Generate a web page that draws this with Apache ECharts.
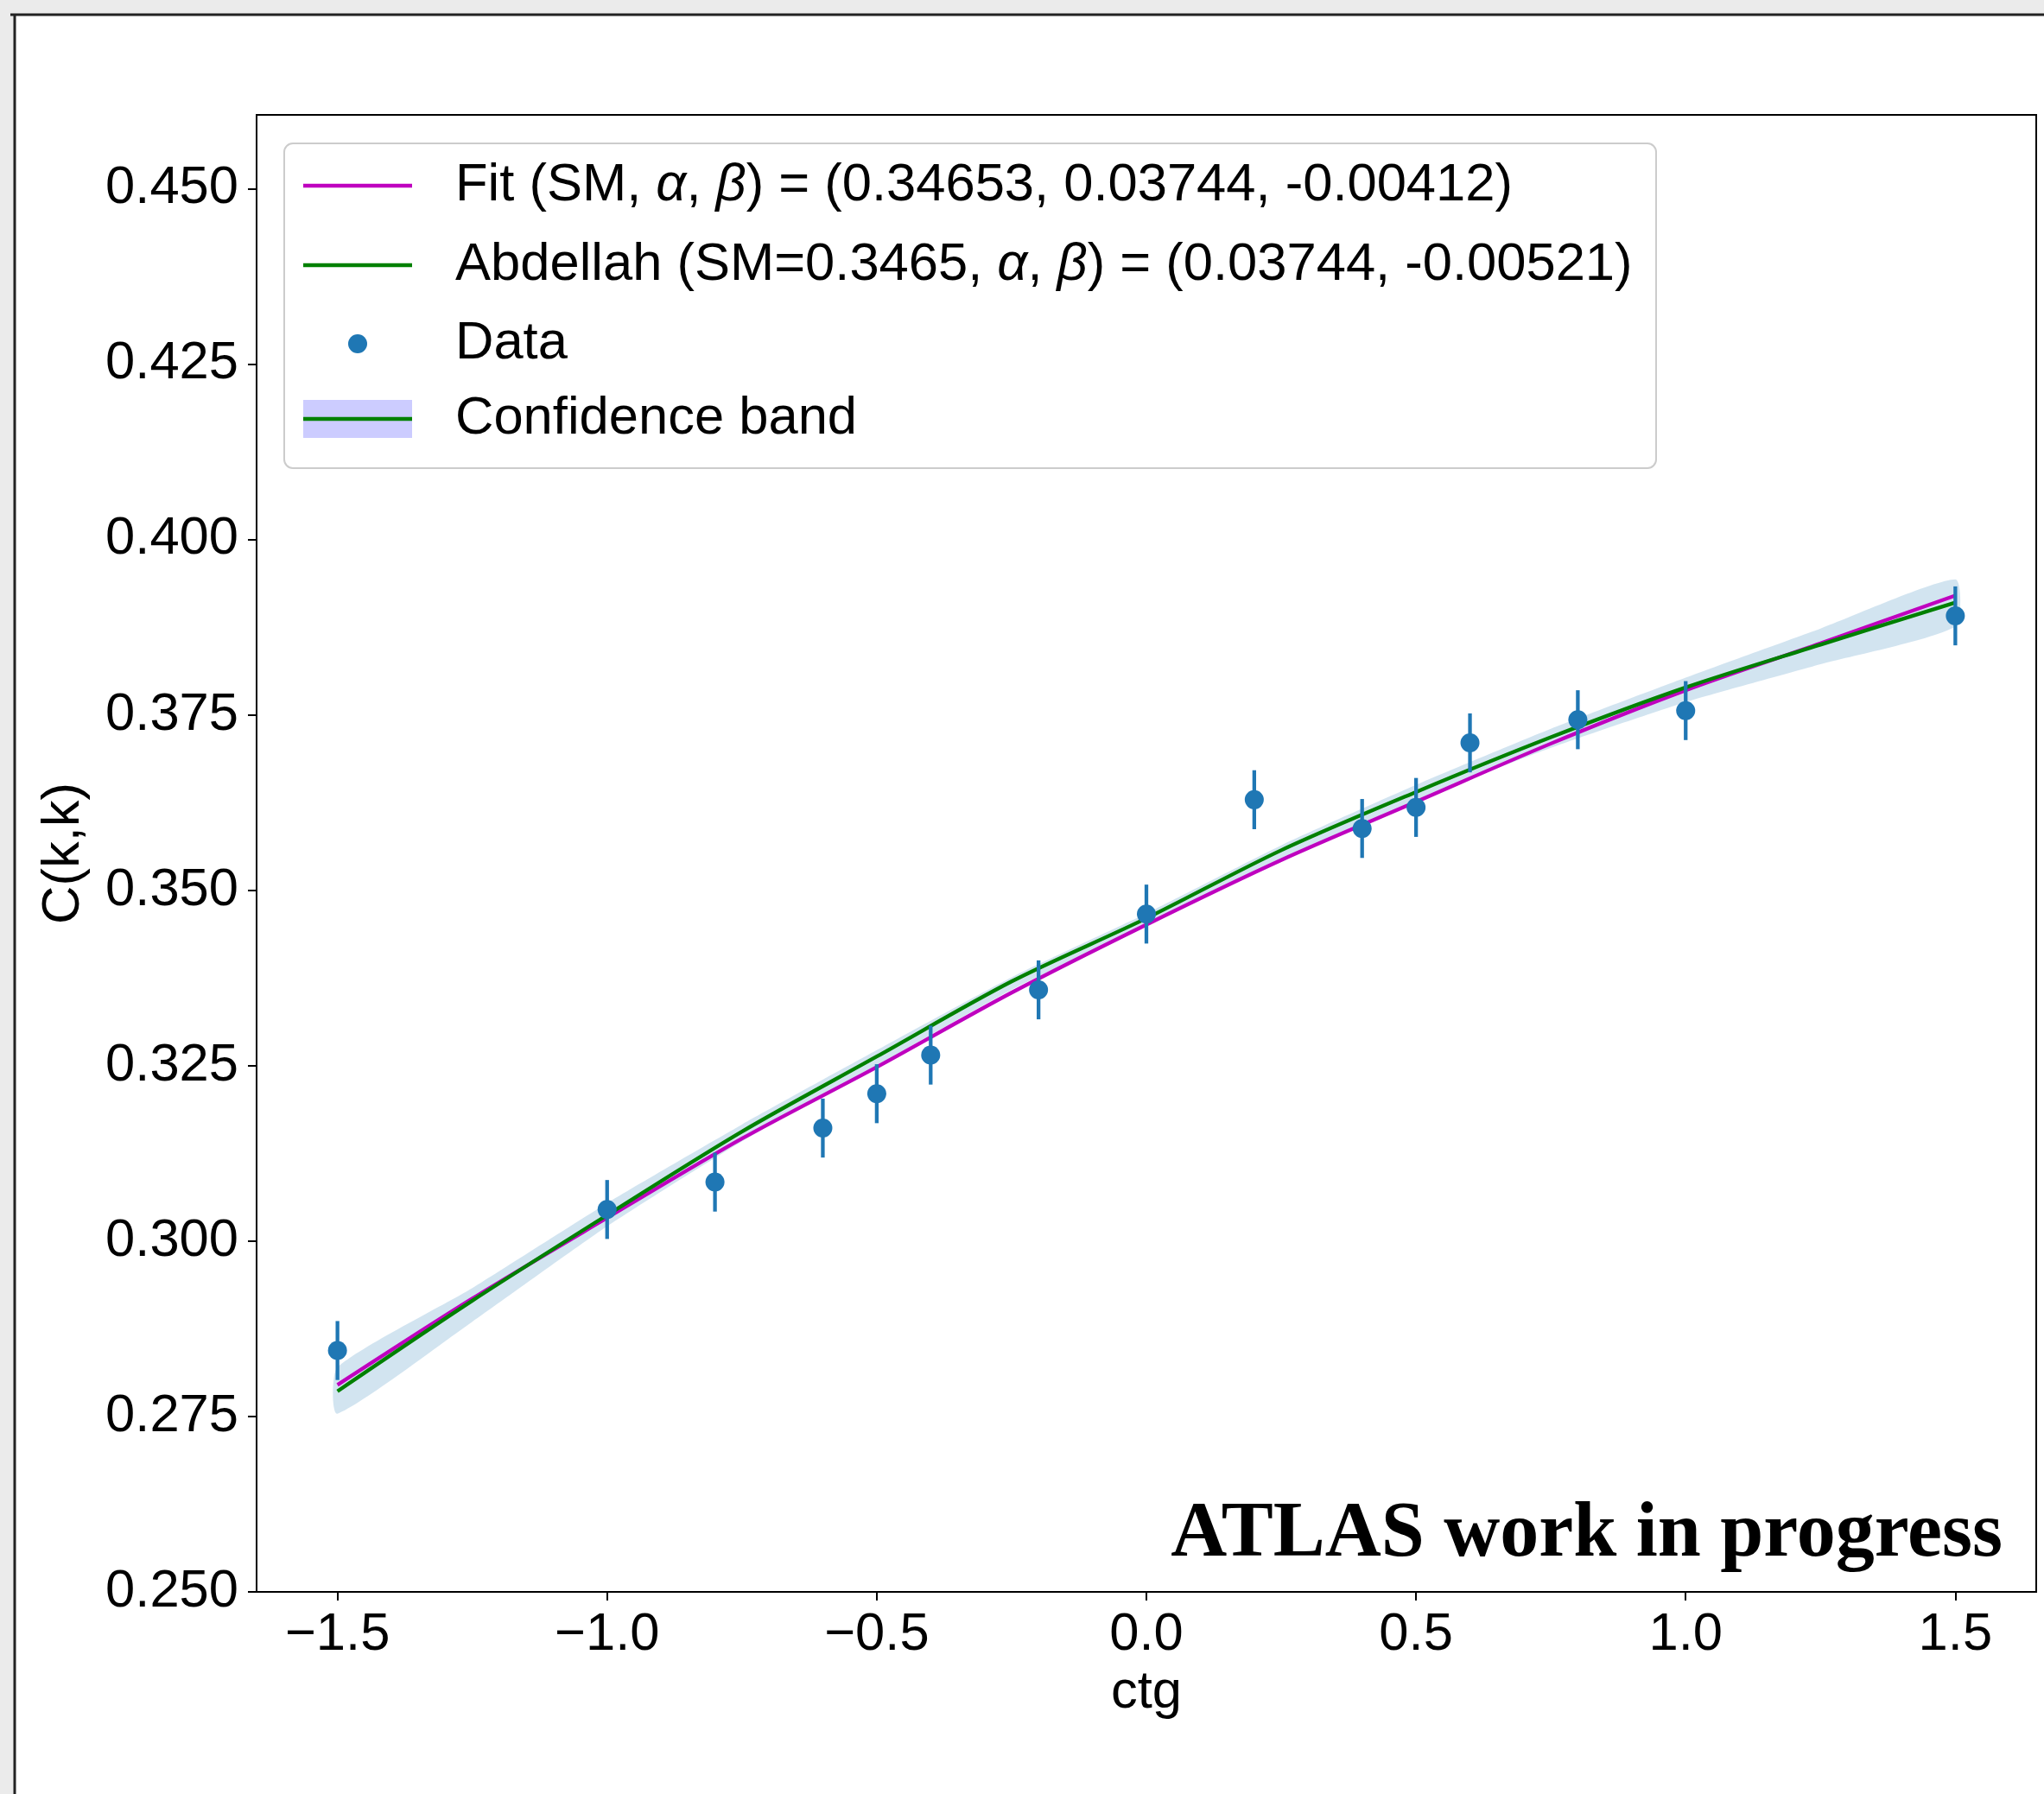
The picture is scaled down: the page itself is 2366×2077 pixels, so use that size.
<!DOCTYPE html>
<html>
<head>
<meta charset="utf-8">
<style>
html,body{margin:0;padding:0;background:#ebebeb;}
#chart{width:2366px;height:2077px;}
</style>
<script src="https://cdn.jsdelivr.net/npm/echarts@6/dist/echarts.min.js"></script>
</head>
<body>
<div id="chart"></div>
<script>
// ---- data ----
const xTicks = [-1.5, -1.0, -0.5, 0.0, 0.5, 1.0, 1.5];
const yTicks = [0.250, 0.275, 0.300, 0.325, 0.350, 0.375, 0.400, 0.425, 0.450];

const dataX   = [-1.5, -1.0, -0.8, -0.6, -0.5, -0.4, -0.2, 0.0, 0.2, 0.4, 0.5, 0.6, 0.8, 1.0, 1.5];
const dataY   = [0.2844, 0.3045, 0.3084, 0.3161, 0.3210, 0.3265, 0.3358, 0.3466, 0.3629, 0.3588, 0.3618, 0.3710, 0.3743, 0.3756, 0.3891];
const dataErr = [0.0042, 0.0042, 0.0042, 0.0042, 0.0042, 0.0042, 0.0042, 0.0042, 0.0042, 0.0042, 0.0042, 0.0042, 0.0042, 0.0042, 0.0042];

const curveX = [-1.5, -1.25, -1.0, -0.75, -0.5, -0.25, 0.0, 0.25, 0.5, 0.75, 1.0, 1.25, 1.5];
const fitY   = [0.2795, 0.2918, 0.3033, 0.3146, 0.3248, 0.3354, 0.3451, 0.3543, 0.3626, 0.3709, 0.3785, 0.3852, 0.3920];
const abdY   = [0.2786, 0.2915, 0.3037, 0.3156, 0.3263, 0.3370, 0.3460, 0.3557, 0.3640, 0.3718, 0.3789, 0.3850, 0.3910];
const bandUp = [0.2820, 0.2933, 0.3054, 0.3166, 0.3272, 0.3376, 0.3467, 0.3564, 0.3650, 0.3730, 0.3803, 0.3873, 0.3943];
const bandLo = [0.2754, 0.2885, 0.3021, 0.3142, 0.3250, 0.3358, 0.3450, 0.3545, 0.3628, 0.3703, 0.3768, 0.3822, 0.3876];

const legendNames = [
  'Fit (SM, \u03B1, \u03B2) = (0.34653, 0.03744, -0.00412)',
  'Abdellah (SM=0.3465, \u03B1, \u03B2) = (0.03744, -0.00521)',
  'Data',
  'Confidence band'
];
const xName = 'ctg';
const yName = 'C(k,k)';
const stamp = 'ATLAS work in progress';

// ---- styles ----
const FONT = '"Liberation Sans", Arial, sans-serif';
const FS = 61.5;
const C_FIT = '#bf00bf';
const C_ABD = '#008000';
const C_DATA = '#1f77b4';
const LW = 4.3;

const chart = echarts.init(document.getElementById('chart'), null, {renderer: 'canvas'});

function richName(s) { return s.replace(/([\u03B1\u03B2])/g, '{i|$1}'); }

function legendText(i, y) {
  return {type: 'text', z: 51, x: 527, y: y, style: {
    text: richName(legendNames[i]), fill: '#000', fontFamily: FONT, fontSize: FS,
    verticalAlign: 'middle', align: 'left',
    rich: {i: {fontStyle: 'italic', fontFamily: FONT, fontSize: FS, fill: '#000'}}
  }};
}
const legendRows = [215, 307, 398, 485];

const option = {
  backgroundColor: '#ebebeb',
  animation: false,
  grid: {left: 297, top: 133, width: 2060, height: 1710, show: true, borderColor: '#000', borderWidth: 2, backgroundColor: '#fff', containLabel: false},
  xAxis: {
    type: 'value', min: -1.65, max: 1.65,
    name: xName, nameLocation: 'middle', nameGap: 85,
    nameTextStyle: {fontFamily: FONT, fontSize: FS, color: '#000'},
    axisLine: {show: true, onZero: false, lineStyle: {color: '#000', width: 2}},
    axisTick: {show: true, inside: false, length: 10, lineStyle: {color: '#000', width: 2}, customValues: xTicks},
    axisLabel: {show: true, margin: 19, fontFamily: FONT, fontSize: FS, color: '#000', customValues: xTicks,
      formatter: v => (v < 0 ? '\u2212' : '') + Math.abs(v).toFixed(1)},
    splitLine: {show: false}
  },
  yAxis: {
    type: 'value', min: 0.25, max: 0.4605,
    name: yName, nameLocation: 'middle', nameGap: 192, nameRotate: 90,
    nameTextStyle: {fontFamily: FONT, fontSize: FS, color: '#000'},
    axisLine: {show: true, onZero: false, lineStyle: {color: '#000', width: 2}},
    axisTick: {show: true, inside: false, length: 10, lineStyle: {color: '#000', width: 2}, customValues: yTicks},
    axisLabel: {show: true, margin: 21, fontFamily: FONT, fontSize: FS, color: '#000', customValues: yTicks,
      formatter: v => v.toFixed(3)},
    splitLine: {show: false}
  },
  graphic: [
    {type: 'rect', z: -100, silent: true, shape: {x: 17, y: 17, width: 2366, height: 2077}, style: {fill: '#ffffff'}},
    {type: 'line', z: 200, silent: true, shape: {x1: 12, y1: 17, x2: 2366, y2: 17}, style: {stroke: '#222', lineWidth: 3}},
    {type: 'line', z: 200, silent: true, shape: {x1: 17, y1: 17, x2: 17, y2: 2077}, style: {stroke: '#222', lineWidth: 3}},
    // legend frame
    {type: 'rect', z: 50, shape: {x: 329, y: 166, width: 1588, height: 376, r: 10}, style: {fill: 'rgba(255,255,255,0.8)', stroke: '#cccccc', lineWidth: 2}},
    {type: 'line', z: 51, shape: {x1: 351, y1: legendRows[0], x2: 477, y2: legendRows[0]}, style: {stroke: C_FIT, lineWidth: LW}},
    legendText(0, legendRows[0]),
    {type: 'line', z: 51, shape: {x1: 351, y1: legendRows[1], x2: 477, y2: legendRows[1]}, style: {stroke: C_ABD, lineWidth: LW}},
    legendText(1, legendRows[1]),
    {type: 'circle', z: 51, shape: {cx: 414, cy: legendRows[2], r: 11}, style: {fill: C_DATA}},
    legendText(2, legendRows[2]),
    {type: 'rect', z: 51, shape: {x: 351, y: 463, width: 126, height: 44}, style: {fill: '#ccccff'}},
    {type: 'line', z: 52, shape: {x1: 351, y1: legendRows[3], x2: 477, y2: legendRows[3]}, style: {stroke: C_ABD, lineWidth: LW}},
    legendText(3, legendRows[3]),
    // stamp
    {type: 'text', z: 51, x: 2318, y: 1778, style: {text: stamp, fill: '#000', font: 'bold 90px "Liberation Serif", "Times New Roman", serif', align: 'right', verticalAlign: 'middle'}}
  ],
  series: [
    {
      name: 'band', type: 'custom', z: 1, silent: true,
      data: curveX.map((x, i) => [x, bandLo[i], bandUp[i]]),
      encode: {x: 0, y: [1, 2]},
      renderItem: function (params, api) {
        if (params.dataIndex !== 0) return null;
        const pts = [];
        for (let i = 0; i < curveX.length; i++) pts.push(api.coord([curveX[i], bandUp[i]]));
        for (let i = curveX.length - 1; i >= 0; i--) pts.push(api.coord([curveX[i], bandLo[i]]));
        return {type: 'polygon', shape: {points: pts, smooth: 0.2}, style: {fill: 'rgba(31,119,180,0.2)'}};
      }
    },
    {
      name: legendNames[0], type: 'line', z: 3, symbol: 'none', showSymbol: false, smooth: 0.3,
      data: curveX.map((x, i) => [x, fitY[i]]),
      lineStyle: {color: C_FIT, width: LW}
    },
    {
      name: legendNames[1], type: 'line', z: 4, symbol: 'none', showSymbol: false, smooth: 0.3,
      data: curveX.map((x, i) => [x, abdY[i]]),
      lineStyle: {color: C_ABD, width: LW}
    },
    {
      name: 'errbar', type: 'custom', z: 5, silent: true,
      data: dataX.map((x, i) => [x, dataY[i] - dataErr[i], dataY[i] + dataErr[i]]),
      encode: {x: 0, y: [1, 2]},
      renderItem: function (params, api) {
        const p1 = api.coord([api.value(0), api.value(1)]);
        const p2 = api.coord([api.value(0), api.value(2)]);
        return {type: 'line', shape: {x1: p1[0], y1: p1[1], x2: p2[0], y2: p2[1]}, style: {stroke: C_DATA, lineWidth: LW}};
      }
    },
    {
      name: legendNames[2], type: 'scatter', z: 6, symbol: 'circle', symbolSize: 22,
      data: dataX.map((x, i) => [x, dataY[i]]),
      itemStyle: {color: C_DATA, opacity: 1}
    }
  ]
};
chart.setOption(option);
</script>
</body>
</html>
